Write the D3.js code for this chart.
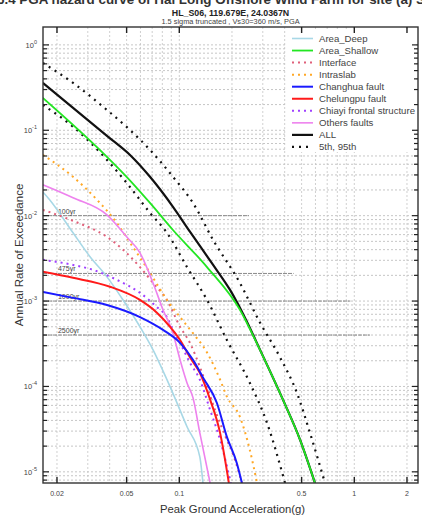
<!DOCTYPE html>
<html><head><meta charset="utf-8">
<script src="https://cdn.jsdelivr.net/npm/d3@7/dist/d3.min.js"></script>
<style>body{margin:0;background:#fff}svg{display:block}text{font-family:"Liberation Sans",Arial,sans-serif}</style>
</head><body><div id="chart"></div>
<script>
// ---- data (PGA in g, annual rate of exceedance) ----
const seriesNames = ["Area_Deep","Area_Shallow","Interface","Intraslab","Changhua fault","Chelungpu fault","Chiayi frontal structure","Others faults","ALL","5th, 95th"];
const areaDeep = [[0.0166,0.019],[0.0182,0.0153],[0.0247,0.0063],[0.0309,0.0033],[0.0386,0.00192],[0.0477,0.00103],[0.0596,5e-4],[0.0708,2.68e-4],[0.085,1.2e-4],[0.1107,3.37e-5],[0.131,1.5e-5],[0.1365,7.4e-6]];
const areaShallow = [[0.0166,0.24],[0.0386,0.0489],[0.05,0.0285],[0.068,0.0141],[0.092,0.0068],[0.144,0.0025],[0.222,7.9e-4],[0.289,2.68e-4],[0.391,7e-5],[0.49,2.37e-5],[0.596,7.4e-6]];
const interfaceS = [[0.0166,0.0117],[0.0247,0.0087],[0.0386,0.00565],[0.0477,0.004],[0.0596,0.0025],[0.0708,0.00163],[0.085,0.00103],[0.101,5e-4],[0.115,3.24e-4],[0.131,1.7e-4],[0.144,9.9e-5],[0.16,5.3e-5],[0.182,2.7e-5],[0.208,1.38e-5],[0.228,7.4e-6]];
const intraslab = [[0.0166,0.0515],[0.0247,0.0285],[0.0339,0.0153],[0.044,0.0082],[0.0543,0.0043],[0.068,0.00214],[0.085,0.00103],[0.101,6.5e-4],[0.1197,4.2e-4],[0.144,2.5e-4],[0.171,1.2e-4],[0.187,7.6e-5],[0.222,4.4e-5],[0.253,1.8e-5],[0.278,7.4e-6]];
const changhua = [[0.0166,0.00128],[0.0247,0.00109],[0.0386,9e-4],[0.0596,6.5e-4],[0.0807,4.6e-4],[0.101,3.24e-4],[0.1197,2.05e-4],[0.137,1.26e-4],[0.164,6.4e-5],[0.187,2.57e-5],[0.213,1.27e-5],[0.228,7.4e-6]];
const chelungpu = [[0.0166,0.0022],[0.0247,0.00187],[0.0402,0.00147],[0.0596,0.00103],[0.0745,7.3e-4],[0.0885,5e-4],[0.101,3.5e-4],[0.115,2.2e-4],[0.131,1.44e-4],[0.15,7e-5],[0.171,2.86e-5],[0.192,7.4e-6]];
const chiayi = [[0.0166,0.00304],[0.0247,0.00265],[0.0321,0.00232],[0.044,0.00177],[0.0596,0.00125],[0.0745,8.5e-4],[0.085,6.5e-4],[0.092,4.6e-4],[0.101,3.24e-4],[0.115,1.9e-4],[0.131,1.2e-4],[0.15,5.3e-5],[0.171,2.37e-5],[0.197,7.4e-6]];
const othersFaults = [[0.0166,0.023],[0.0247,0.0162],[0.0386,0.0102],[0.05,0.00565],[0.0596,0.00367],[0.0708,0.00163],[0.0807,7.9e-4],[0.092,4.2e-4],[0.101,2.05e-4],[0.1107,1.1e-4],[0.1197,7.4e-5],[0.131,2.86e-5],[0.15,7.4e-6]];
const allSources = [[0.0166,0.359],[0.0386,0.086],[0.053,0.05],[0.068,0.0285],[0.092,0.0127],[0.115,0.0065],[0.156,0.00265],[0.195,0.00135],[0.238,6.3e-4],[0.289,2.7e-4],[0.391,7e-5],[0.49,2.37e-5],[0.596,7.4e-6]];
const pct95 = [[0.0166,0.615],[0.0247,0.359],[0.0386,0.173],[0.0522,0.101],[0.068,0.059],[0.092,0.0285],[0.1197,0.0141],[0.156,0.0052],[0.222,0.00163],[0.289,5.6e-4],[0.376,2.2e-4],[0.47,8.4e-5],[0.558,2.86e-5],[0.68,7.4e-6]];
const pct5 = [[0.0166,0.198],[0.0247,0.11],[0.0386,0.045],[0.0522,0.0217],[0.068,0.0108],[0.085,0.0063],[0.1107,0.0025],[0.144,0.00103],[0.187,3.5e-4],[0.253,1.1e-4],[0.317,3.75e-5],[0.402,7.4e-6]];
const returnPeriods = ["100yr","475yr","1000yr","2500yr"];
const returnRates = [0.01, 1/475, 0.001, 0.0004];
const returnEnds = [0.25, 0.45, 0.95, 1.23];
const xTickValues = [0.02,0.05,0.1,0.5,1,2];
const xTickLabels = ["0.02","0.05","0.1","0.5","1","2"];
const yTickExps = [0,-1,-2,-3,-4,-5];

// ---- layout ----
const W = 422, H = 522;
const L = 43, R = 418, T = 27, B = 483;
const svg = d3.select("#chart").append("svg").attr("width", W).attr("height", H);
const x = d3.scaleLog().domain([0.01664, 2.312]).range([L, R]);
const y = d3.scaleLog().domain([7.4e-6, 1.62]).range([B, T]);

// clipped top heading (cut off at the top edge, as in the source image)
svg.append("text").attr("x", -3).attr("y", 4).attr("font-size", 13.4).attr("font-weight", "bold")
  .attr("fill", "#333").text("5.4 PGA hazard curve of Hai Long Offshore Wind Farm for site (a) S06");
svg.append("text").attr("x", (L+R)/2).attr("y", 16).attr("text-anchor","middle")
  .attr("font-size", 8.8).attr("font-weight","bold").attr("fill","#222").text("HL_S06, 119.679E, 24.0367N");
svg.append("text").attr("x", (L+R)/2).attr("y", 24).attr("text-anchor","middle")
  .attr("font-size", 7.4).attr("fill","#444").text("1.5 sigma truncated , Vs30=360 m/s, PGA");

svg.append("rect").attr("x", L).attr("y", T).attr("width", R-L).attr("height", B-T).attr("fill","#fff");

// gridlines
const g = svg.append("g");
const hVals = [], vVals = [];
for (let e = -6; e <= 0; e++) for (let k = 1; k <= 9; k++) { const v = k*Math.pow(10,e); if (v >= y.domain()[0] && v <= y.domain()[1]) hVals.push(v); }
for (let e = -2; e <= 0; e++) for (let k = 1; k <= 9; k++) { const v = k*Math.pow(10,e); if (v >= 0.02 && v <= 2.0001) vVals.push(v); }
g.selectAll(".hg").data(hVals).join("line").attr("x1", L).attr("x2", R)
  .attr("y1", d => y(d)).attr("y2", d => y(d)).attr("stroke", "#b8b8b8").attr("stroke-width", 0.8).attr("stroke-dasharray","2,2");
g.selectAll(".vg").data(vVals).join("line").attr("y1", T).attr("y2", B)
  .attr("x1", d => x(d)).attr("x2", d => x(d)).attr("stroke", "#c4c4c4").attr("stroke-width", 0.8).attr("stroke-dasharray","2,2");

// return period lines
const rp = svg.append("g");
returnRates.forEach((r, i) => {
  rp.append("line").attr("x1", L).attr("x2", x(returnEnds[i])).attr("y1", y(r)).attr("y2", y(r))
    .attr("stroke", "#888").attr("stroke-width", 1).attr("stroke-dasharray","4,1");
  rp.append("text").attr("x", x(0.02)+1).attr("y", y(r)-2).attr("font-size", 7).attr("fill","#444").text(returnPeriods[i]);
});

// curves
svg.append("clipPath").attr("id","clip").append("rect").attr("x",L).attr("y",T).attr("width",R-L).attr("height",B-T);
const line = d3.line().x(d => x(d[0])).y(d => y(d[1])).curve(d3.curveMonotoneX);
const styles = [
  {data: areaDeep, color:"#a8d8e6", w:1.6, dash:null},
  {data: areaShallow, color:"#22e622", w:1.8, dash:null},
  {data: interfaceS, color:"#e0607a", w:2, dash:"2,4"},
  {data: intraslab, color:"#ffa826", w:2, dash:"2,4"},
  {data: changhua, color:"#1a1aff", w:2, dash:null},
  {data: chelungpu, color:"#ff1a1a", w:2, dash:null},
  {data: chiayi, color:"#a040ff", w:2, dash:"2,4"},
  {data: othersFaults, color:"#ee82ee", w:1.6, dash:null},
  {data: allSources, color:"#111", w:2.2, dash:null},
  {data: pct95, color:"#111", w:2.2, dash:"2,5"},
  {data: pct5, color:"#111", w:2.2, dash:"2,5"}
];
const cg = svg.append("g").attr("clip-path","url(#clip)");
const drawOrder = [0,2,3,6,7,5,4,10,9,8,1];
drawOrder.forEach(i => {
  const s = styles[i];
  cg.append("path").attr("d", line(s.data)).attr("fill","none").attr("stroke", s.color)
    .attr("stroke-width", s.w).attr("stroke-dasharray", s.dash);
});

// legend
const lg = svg.append("g");
lg.append("rect").attr("x", 287).attr("y", 29).attr("width", 129).attr("height", 123).attr("fill","#fff");
seriesNames.forEach((n, i) => {
  const s = styles[i];
  const yy = 38.5 + i*12.05;
  lg.append("line").attr("x1", 292).attr("x2", 313).attr("y1", yy).attr("y2", yy)
    .attr("stroke", s.color).attr("stroke-width", s.w).attr("stroke-dasharray", s.dash);
  lg.append("text").attr("x", 319).attr("y", yy+3.3).attr("font-size", 9.6).attr("fill","#444").text(n);
});

// frame and ticks
const ax = svg.append("g");
ax.append("rect").attr("x", L).attr("y", T).attr("width", R-L).attr("height", B-T)
  .attr("fill","none").attr("stroke","#333").attr("stroke-width",1.4);
xTickValues.forEach((v, i) => {
  ax.append("line").attr("x1", x(v)).attr("x2", x(v)).attr("y1", B).attr("y2", B-6).attr("stroke","#222").attr("stroke-width",1.4);
  ax.append("line").attr("x1", x(v)).attr("x2", x(v)).attr("y1", T).attr("y2", T+6).attr("stroke","#222").attr("stroke-width",1.4);
  ax.append("text").attr("x", x(v)).attr("y", 496).attr("text-anchor","middle").attr("font-size",7).attr("fill","#444").text(xTickLabels[i]);
});
hVals.forEach(v => {
  const major = Math.abs(Math.log10(v) - Math.round(Math.log10(v))) < 1e-9;
  const len = major ? 6 : 4;
  ax.append("line").attr("x1", L).attr("x2", L+len).attr("y1", y(v)).attr("y2", y(v)).attr("stroke","#222").attr("stroke-width",1.2);
  ax.append("line").attr("x1", R).attr("x2", R-len).attr("y1", y(v)).attr("y2", y(v)).attr("stroke","#222").attr("stroke-width",1.2);
});
yTickExps.forEach(e => {
  const t = ax.append("text").attr("x", 37).attr("y", y(Math.pow(10,e))+3).attr("text-anchor","end").attr("font-size",7.5).attr("fill","#444");
  t.append("tspan").text("10");
  t.append("tspan").attr("dy",-4).attr("font-size",5.5).text(String(e));
});

// axis titles
svg.append("text").attr("x", (L+R)/2+2).attr("y", 513).attr("text-anchor","middle").attr("font-size",11.3).attr("fill","#333").text("Peak Ground Acceleration(g)");
svg.append("text").attr("transform", "translate(23," + ((T+B)/2) + ") rotate(-90)").attr("text-anchor","middle")
  .attr("font-size",11.5).attr("fill","#333").text("Annual Rate of Exceedance");
</script></body></html>
